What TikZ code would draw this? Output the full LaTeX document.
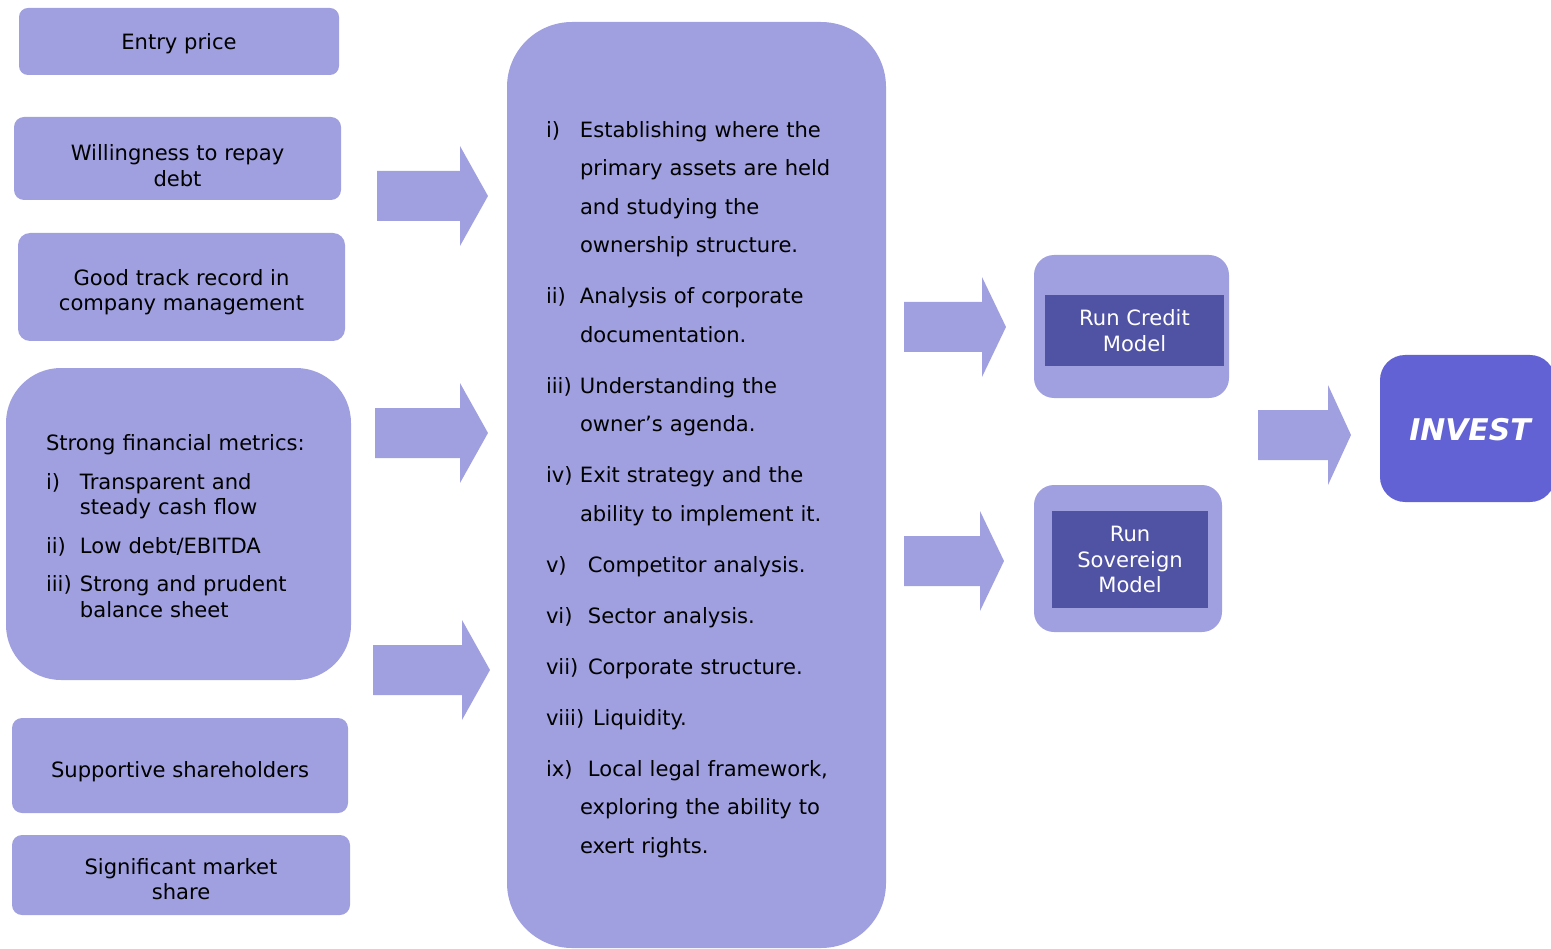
\documentclass[tikz,border=0pt]{standalone}
\usepackage{fontspec}
\setmainfont{DejaVu Sans}
\usetikzlibrary{positioning}

\definecolor{boxlilac}{RGB}{160,160,224}
\definecolor{modelnavy}{RGB}{80,82,164}
\definecolor{investblue}{RGB}{98,98,212}

\newlength\px
\setlength\px{0.02cm}

% hanging list item: label box width, label, text
\newcommand{\hitem}[3][0.68cm]{\par\hangindent=0.68cm\hangafter=1\noindent\makebox[#1][l]{#2}#3\par}

% block arrow: name, tail x, head x, tip x, centre y
\newcommand{\blockarrow}[5]{%
  \fill[boxlilac] (#2,#5-25) -- (#3,#5-25) -- (#3,#5-50) -- (#4,#5)
    -- (#3,#5+50) -- (#3,#5+25) -- (#2,#5+25) -- cycle;
  \coordinate (#1) at (#4,#5);}

\begin{document}
\begin{tikzpicture}[x=0.02cm, y=-0.02cm,
    every node/.style={font=\fontsize{12}{14.5}\selectfont},
    factor/.style={fill=boxlilac, rounded corners=10\px, inner sep=0pt},
    factortext/.style={align=center, inner sep=0pt},
    bigbox/.style={fill=boxlilac, inner sep=0pt},
    model/.style={fill=modelnavy, text=white, align=center, inner sep=0pt},
    listtext/.style={anchor=west, inner sep=0pt, text width=7cm, align=left}]
    \useasboundingbox (0,0) rectangle (1551,949);

    % left column
    \node[factor, minimum width=320\px, minimum height=67\px, rounded corners=9\px] (entry) at (179,41.5) {};
    \node[factortext] (entrytext) at (179,43.5) {Entry price};
    \node[factor, minimum width=327\px, minimum height=83\px] (willing) at (177.5,158.5) {};
    \node[factortext] (willingtext) at (177.5,165.5) {Willingness to repay\\debt};
    \node[factor, minimum width=327\px, minimum height=108\px, rounded corners=12\px] (track) at (181.5,287) {};
    \node[factortext] (tracktext) at (181.5,292) {Good track record in\\company management};
    \node[bigbox, minimum width=345\px, minimum height=312\px, rounded corners=55\px] (fin) at (178.5,524) {};
    \node[listtext, text width=6cm] (metrics) at ([xshift=40\px, yshift=-2\px]fin.west) {\setlength{\parskip}{0.26cm}Strong financial metrics:
        \hitem{i)}{Transparent and\newline steady cash flow}
        \hitem{ii)}{Low debt/EBITDA}
        \hitem{iii)}{Strong and prudent\newline balance sheet}};
    \node[factor, minimum width=336\px, minimum height=95\px] (support) at (180,765.5) {};
    \node[factortext] (supporttext) at (180,771.5) {Supportive shareholders};
    \node[factor, minimum width=338\px, minimum height=80\px] (market) at (181,875) {};
    \node[factortext] (markettext) at (181,879) {Significant market\\share};

    % centre column
    \node[bigbox, minimum width=379\px, minimum height=926\px, rounded corners=65\px] (centre) at (696.5,485) {};
    \node[listtext, font=\fontsize{12}{21.9}\selectfont] (steps) at ([xshift=39\px, yshift=13\px]centre.west) {\setlength{\parskip}{0.25cm}%
        \hitem{i)}{Establishing where the\newline primary assets are held\newline and studying the\newline ownership structure.}
        \hitem{ii)}{Analysis of corporate\newline documentation.}
        \hitem{iii)}{Understanding the\newline owner’s agenda.}
        \hitem{iv)}{Exit strategy and the\newline ability to implement it.}
        \hitem[0.84cm]{v)}{Competitor analysis.}
        \hitem[0.84cm]{vi)}{Sector analysis.}
        \hitem[0.84cm]{vii)}{Corporate structure.}
        \hitem[0.94cm]{viii)}{Liquidity.}
        \hitem[0.84cm]{ix)}{Local legal framework,\newline exploring the ability to\newline exert rights.}};

    % models
    \node[factor, minimum width=195\px, minimum height=143\px, rounded corners=20\px] (credit) at (1131.5,326.5) {};
    \node[model, minimum width=179\px, minimum height=71\px] (creditrun) at (1134.5,330.5) {Run Credit\\Model};
    \node[factor, minimum width=188\px, minimum height=147\px, rounded corners=20\px] (sovereign) at (1128,558.5) {};
    \node[model, minimum width=156\px, minimum height=97\px] (sovereignrun) at (1130,559.5) {Run\\Sovereign\\Model};

    % outcome
    \node[fill=investblue, minimum width=175\px, minimum height=147\px, rounded corners=25\px, inner sep=0pt] (invest) at (1467.5,428.5) {};
    \node[text=white, font=\fontsize{17}{20}\selectfont\bfseries\itshape, inner sep=0pt] (investlabel) at (1470,429.5) {INVEST};

    % block arrows
    \blockarrow{inA}{377}{460}{488}{196}
    \blockarrow{inB}{375}{460}{488}{433}
    \blockarrow{inC}{373}{462}{490}{670}
    \blockarrow{outA}{904}{982}{1006}{327}
    \blockarrow{outB}{904}{980}{1004}{561}
    \blockarrow{final}{1258}{1328}{1351}{435}
\end{tikzpicture}
\end{document}
